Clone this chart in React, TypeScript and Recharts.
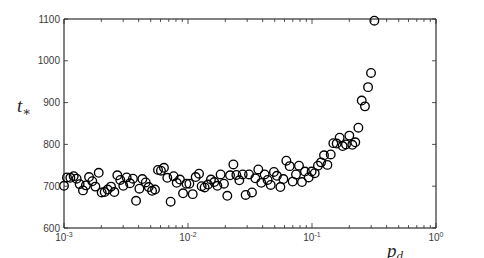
import React from 'react';
import { ScatterChart, Scatter, XAxis, YAxis, ReferenceArea } from 'recharts';

// x positions read as log10(p_d)
const pdExponents = [
  -3.0, -2.976, -2.949, -2.922, -2.898, -2.874, -2.847, -2.823, -2.798, -2.772,
  -2.747, -2.72, -2.696, -2.672, -2.648, -2.621, -2.594, -2.57, -2.546, -2.522,
  -2.495, -2.468, -2.444, -2.419, -2.392, -2.368, -2.341, -2.317, -2.29, -2.266,
  -2.242, -2.218, -2.194, -2.167, -2.14, -2.116, -2.091, -2.065, -2.04, -2.013,
  -1.989, -1.962, -1.938, -1.911, -1.89, -1.866, -1.839, -1.815, -1.788, -1.763,
  -1.737, -1.71, -1.683, -1.661, -1.634, -1.61, -1.586, -1.559, -1.535, -1.508,
  -1.484, -1.457, -1.433, -1.409, -1.382, -1.358, -1.333, -1.307, -1.283, -1.255,
  -1.231, -1.207, -1.18, -1.156, -1.129, -1.105, -1.081, -1.057, -1.027, -1.003,
  -0.978, -0.952, -0.927, -0.903, -0.876, -0.849, -0.828, -0.801, -0.777, -0.753,
  -0.726, -0.699, -0.675, -0.651, -0.626, -0.599, -0.573, -0.548, -0.524, -0.497,
];

const tStar = [
  701, 721, 720, 724, 718, 705, 690, 702, 722, 712,
  699, 732, 685, 686, 692, 699, 686, 726, 715, 701,
  721, 707, 718, 665, 694, 717, 709, 698, 689, 692,
  739, 737, 744, 720, 663, 724, 708, 716, 683, 706,
  706, 681, 722, 730, 700, 697, 704, 716, 710, 701,
  728, 706, 677, 726, 752, 727, 714, 728, 679, 728,
  685, 719, 740, 708, 728, 715, 703, 734, 725, 698,
  717, 761, 748, 711, 728, 749, 710, 735, 721, 735,
  731, 749, 757, 774, 751, 776, 803, 802, 816, 796,
  800, 821, 799, 805, 840, 905, 891, 937, 971, 1096,
];

const xMajorTicks = [0.001, 0.01, 0.1, 1];
const xMajorLabels = ['-3', '-2', '-1', '0'];
const xAllTicks = [
  0.001, 0.002, 0.003, 0.004, 0.005, 0.006, 0.007, 0.008, 0.009,
  0.01, 0.02, 0.03, 0.04, 0.05, 0.06, 0.07, 0.08, 0.09,
  0.1, 0.2, 0.3, 0.4, 0.5, 0.6, 0.7, 0.8, 0.9, 1,
];
const yTicks = [600, 700, 800, 900, 1000, 1100];

const data = pdExponents.map((e, i) => ({ pd: Math.pow(10, e), t: tStar[i] }));

const AXIS = '#262626';
const TEXT = '#3a3a3a';
const FONT = '"Liberation Sans", Arial, Helvetica, sans-serif';

const isMajor = (v: number) => xMajorTicks.some((m) => Math.abs(m - v) / m < 1e-6);

const BottomTick = (props: any) => {
  const { x, y, payload } = props;
  const v = payload.value;
  const major = isMajor(v);
  const idx = xMajorTicks.findIndex((m) => Math.abs(m - v) / m < 1e-6);
  return (
    <g>
      <line x1={x} y1={y} x2={x} y2={y - (major ? 5 : 3)} stroke={AXIS} strokeWidth={0.8} />
      {major && (
        <text x={x} y={y + 13} textAnchor="middle" fill={TEXT} fontFamily={FONT} fontSize={10}>
          <tspan>10</tspan>
          <tspan dy={-4} fontSize={7}>{xMajorLabels[idx]}</tspan>
        </text>
      )}
    </g>
  );
};

const TopTick = (props: any) => {
  const { x, y, payload } = props;
  return <line x1={x} y1={y} x2={x} y2={y + (isMajor(payload.value) ? 5 : 3)} stroke={AXIS} strokeWidth={0.8} />;
};

const LeftTick = (props: any) => {
  const { x, y, payload } = props;
  return (
    <g>
      <line x1={x} y1={y} x2={x + 4} y2={y} stroke={AXIS} strokeWidth={0.8} />
      <text x={x - 4} y={y + 3.5} textAnchor="end" fill={TEXT} fontFamily={FONT} fontSize={10}>
        {payload.value}
      </text>
    </g>
  );
};

const RightTick = (props: any) => {
  const { x, y } = props;
  return <line x1={x} y1={y} x2={x - 4} y2={y} stroke={AXIS} strokeWidth={0.8} />;
};

export default function App() {
  return (
    <div style={{ position: 'relative', width: 476, height: 250 }}>
      <ScatterChart width={476} height={250} margin={{ top: 0, right: 0, bottom: 0, left: 0 }}>
        <XAxis
          dataKey="pd"
          type="number"
          scale="log"
          domain={[0.001, 1]}
          ticks={xAllTicks}
          interval={0}
          tickSize={0}
          tickMargin={0}
          tickLine={false}
          axisLine={{ stroke: AXIS, strokeWidth: 0.8 }}
          tick={<BottomTick />}
          height={30}
        />
        <XAxis
          xAxisId="top"
          orientation="top"
          dataKey="pd"
          type="number"
          scale="log"
          domain={[0.001, 1]}
          ticks={xAllTicks}
          interval={0}
          tickSize={0}
          tickMargin={0}
          tickLine={false}
          axisLine={{ stroke: AXIS, strokeWidth: 0.8 }}
          tick={<TopTick />}
          height={11}
          allowDataOverflow
        />
        <YAxis
          dataKey="t"
          type="number"
          domain={[600, 1100]}
          ticks={yTicks}
          interval={0}
          tickSize={0}
          tickMargin={0}
          tickLine={false}
          axisLine={{ stroke: AXIS, strokeWidth: 0.8 }}
          tick={<LeftTick />}
          width={56}
        />
        <YAxis
          yAxisId="right"
          orientation="right"
          dataKey="t"
          type="number"
          domain={[600, 1100]}
          ticks={yTicks}
          interval={0}
          tickSize={0}
          tickMargin={0}
          tickLine={false}
          axisLine={{ stroke: AXIS, strokeWidth: 0.8 }}
          tick={<RightTick />}
          width={48}
        />
        <ReferenceArea x1={0.001} x2={1} y1={600} y2={1100} stroke={AXIS} strokeWidth={0.6} fill="none" />
        <Scatter
          data={data}
          isAnimationActive={false}
          shape={(p: any) => (
            <circle cx={p.cx} cy={p.cy} r={4.3} fill="none" stroke="#000" strokeWidth={1.35} />
          )}
        />
        <Scatter
          data={data}
          xAxisId="top"
          yAxisId="right"
          isAnimationActive={false}
          fill="none"
          shape={(p: any) => <circle cx={p.cx} cy={p.cy} r={0} fill="none" />}
        />
      </ScatterChart>
      <div
        style={{
          position: 'absolute',
          left: 9,
          top: 88,
          fontFamily: '"Liberation Serif", "DejaVu Serif", serif',
          fontStyle: 'italic',
          fontSize: 19,
          color: AXIS,
          lineHeight: 1,
        }}
      >
        t<span style={{ fontSize: 13, fontStyle: 'normal', position: 'relative', top: 4 }}>∗</span>
      </div>
      <div
        style={{
          position: 'absolute',
          left: 379,
          top: 233,
          fontFamily: '"Liberation Serif", "DejaVu Serif", serif',
          fontStyle: 'italic',
          fontSize: 19,
          color: AXIS,
          lineHeight: 1,
        }}
      >
        p<span style={{ fontSize: 13, position: 'relative', top: 3 }}>d</span>
      </div>
    </div>
  );
}
